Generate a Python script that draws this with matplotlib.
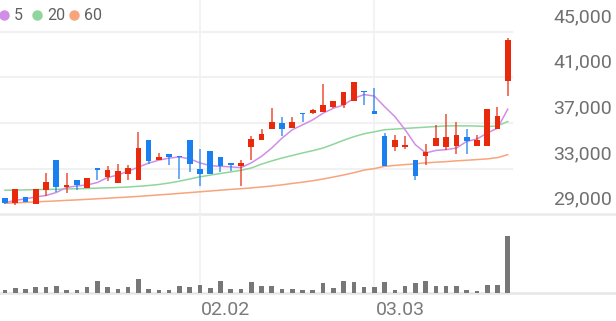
import numpy as np
import matplotlib.pyplot as plt

# daily candles (won)
opens = [30400, 29960, 30540, 29900, 31110, 33760, 31430, 32040, 31320, 33000,
         32280, 31770, 32500, 32040, 35520, 33740, 34300, 34090, 35520, 33000,
         34540, 33990, 33500, 33260, 34900, 35460, 36450, 36970, 36540, 37900,
         37860, 37990, 38420, 38530, 38960, 39830, 38080, 35870, 34890, 34900,
         33720, 34090, 35010, 34900, 34940, 35740, 34940, 34940, 36480, 40650]
highs = [30450, 31230, 30540, 31230, 32630, 33760, 32630, 32040, 32190, 33000,
         33200, 33400, 33350, 36200, 35520, 34370, 34300, 34090, 35520, 34720,
         34540, 33990, 33500, 33780, 35870, 36450, 38280, 37500, 37500, 37900,
         38220, 40390, 38920, 39690, 40590, 39830, 40020, 36110, 35960, 35870,
         33720, 35170, 36800, 37760, 37070, 36450, 35960, 38200, 38390, 44450]
lows = [29900, 29840, 30070, 29900, 30590, 30940, 30900, 31170, 31320, 32040,
        31910, 31770, 32040, 32040, 33400, 33740, 33350, 32100, 32710, 31520,
        32570, 32740, 32770, 31470, 33720, 35460, 36450, 35810, 36540, 37110,
        37740, 37990, 38280, 38280, 38960, 38530, 37760, 33200, 34570, 34710,
        32000, 33350, 35010, 34650, 34300, 34280, 34940, 34940, 36480, 39370]
closes = [29960, 31230, 30070, 31230, 31840, 31410, 31580, 31580, 32190, 32900,
          32850, 32770, 33030, 34800, 33640, 34000, 33990, 34000, 33400, 32570,
          32570, 33260, 33300, 33500, 35600, 36020, 37060, 36480, 37060, 37780,
          38090, 38570, 38920, 39690, 40590, 39700, 37760, 33200, 35480, 35070,
          32390, 34430, 35670, 35760, 35900, 35380, 35480, 38200, 37640, 44220]

# volume (thousand shares)
volumes = [33, 50, 40, 57, 63, 73, 27, 27, 60, 123, 57, 40, 57, 143, 40, 30, 33, 73, 63, 83,
           53, 117, 37, 43, 110, 73, 67, 40, 40, 33, 33, 100, 50, 117, 110, 57, 57, 110, 30, 67,
           97, 123, 67, 67, 73, 33, 17, 83, 77, 573]

# moving averages
ma5 = [30020, 30220, 30350, 30520, 30650, 30910, 31350, 31480, 31570, 31780,
       32220, 32440, 32770, 33130, 33480, 33740, 33920, 34020, 33850, 33500,
       33260, 33200, 33150, 33090, 33500, 34070, 34800, 35670, 36400, 36830,
       37270, 37850, 38280, 38570, 39150, 39480, 39350, 38420, 37550, 36400,
       35090, 34370, 34590, 34660, 34800, 35380, 35590, 36110, 36540, 38200]
ma20 = [31110, 31120, 31140, 31160, 31180, 31190, 31220, 31240, 31260, 31290,
        31320, 31350, 31390, 31450, 31520, 31610, 31740, 31900, 32090, 32280,
        32430, 32570, 32710, 32850, 33050, 33390, 33670, 33930, 34150, 34370,
        34570, 34800, 35130, 35480, 35790, 36050, 36220, 36400, 36460, 36520,
        36570, 36630, 36680, 36740, 36740, 36740, 36720, 36680, 36740, 37120]
ma60 = [29960, 30000, 30040, 30090, 30130, 30170, 30220, 30260, 30310, 30360,
        30410, 30460, 30510, 30570, 30630, 30700, 30760, 30830, 30900, 30970,
        31040, 31110, 31180, 31240, 31310, 31390, 31480, 31580, 31700, 31810,
        31940, 32090, 32260, 32440, 32640, 32870, 33000, 33200, 33280, 33350,
        33420, 33500, 33560, 33610, 33680, 33730, 33790, 33850, 33960, 34220]

date_ticks = [19, 36]
date_labels = ['02.02', '03.03']
price_ticks = [29000, 33000, 37000, 41000, 45000]
ma_names = ['5', '20', '60']

RED = '#e8290b'
BLUE = '#1a7ff0'
MA_COLORS = ['#d08ee6', '#8fd69c', '#f8a47c']
GRID = '#f1f1f1'

plt.rcParams['font.family'] = ['Roboto', 'DejaVu Sans']

W, H = 616, 321
fig = plt.figure(figsize=(W / 100, H / 100), dpi=100)

# pixel layout
price_bottom = 214.3
vol_base = 293
ax = fig.add_axes([0, (H - price_bottom) / H, 1, price_bottom / H])
axv = fig.add_axes([0, (H - vol_base) / H, 1, (vol_base - price_bottom) / H])

x = np.arange(len(closes))
step = 10.26
xlim = (-5 / step, (W - 5) / step)

won_per_px = 16000 / (price_bottom - 31.5)
ax.set_ylim(29000, 29000 + price_bottom * won_per_px)
ax.set_xlim(*xlim)
axv.set_xlim(*xlim)
axv.set_ylim(0, max(volumes) * (vol_base - price_bottom) / 57.3)

for a in (ax, axv):
    a.axis('off')
    for t in date_ticks:
        a.axvline(t, color=GRID, lw=1.2, zorder=0)

# horizontal grid (stops before labels), bottom separator full width
for p in price_ticks[1:]:
    ax.axhline(p, xmin=0, xmax=512 / W, color=GRID, lw=1.5, zorder=0)
ax.axhline(29000, color='#ebebeb', lw=1.8, zorder=0, clip_on=False)
axv.axhline(0, color='#e6e6e6', lw=1.8, zorder=0, clip_on=False)

# moving averages
for vals, c in zip([ma60, ma20, ma5], MA_COLORS[::-1]):
    ax.plot(x, vals, color=c, lw=1.1, zorder=2)

# candles
o = np.array(opens); c = np.array(closes)
hi = np.array(highs); lo = np.array(lows)
up = c >= o
cols = np.where(up, RED, BLUE)
ax.vlines(x, lo, hi, colors=cols, lw=1.2, alpha=0.75, zorder=3)
body_h = np.maximum(np.abs(c - o), 120)
ax.bar(x, body_h, bottom=np.minimum(o, c), width=0.55, color=cols, zorder=4)

# volume
axv.bar(x, volumes, width=0.45, color='#777777', zorder=2)

# price labels
for p in price_ticks:
    ax.annotate(f'{p:,}', xy=(1, p), xycoords=('axes fraction', 'data'),
                xytext=(-3, 10.5), textcoords='offset points',
                ha='right', va='center', fontsize=14, color='#707070')

# date labels
for t, lab in zip(date_ticks, date_labels):
    axv.annotate(lab, xy=(t, 0), xycoords='data', xytext=(1, -12.5),
                 textcoords='offset points', ha='left', va='center',
                 fontsize=14, color='#7a7a7a', annotation_clip=False)

# legend
leg_x = [4.3, 37.3, 74]
for lx, name, col in zip(leg_x, ma_names, MA_COLORS):
    ax.plot([lx / W], [1 - 15 / price_bottom], 'o', ms=6.5, color=col,
            transform=ax.transAxes, clip_on=False)
    ax.text((lx + 10) / W, 1 - 15 / price_bottom, name, transform=ax.transAxes,
            ha='left', va='center', fontsize=11.5, color='#606060')

fig.savefig('out.png', dpi=100)
